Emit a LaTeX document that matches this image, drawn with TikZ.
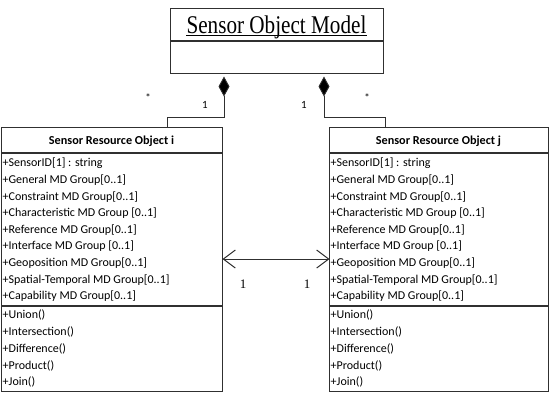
\documentclass[tikz,border=0pt]{standalone}
\usepackage{fontspec}
\setmainfont{Carlito}
\newfontfamily\titlefont[FakeStretch=0.83]{Liberation Serif}
\newfontfamily\serifnum{Liberation Serif}
\usetikzlibrary{arrows.meta}
\definecolor{ln}{HTML}{303030}
\tikzset{
  box/.style={draw=ln, line width=1.3pt, inner sep=0pt, anchor=north west},
  sep/.style={draw=ln, line width=1.3pt},
  conn/.style={draw=ln, line width=0.9pt},
  comp/.style={conn, {Diamond[length=20pt,width=11pt,fill=black]}-},
  assoc/.style={conn, {Straight Barb[length=12pt,width=18pt,line width=1pt]}-{Straight Barb[length=12pt,width=18pt,line width=1pt]}},
  row/.style={anchor=base west, inner sep=0pt, font=\fontsize{12}{13}\selectfont},
  head/.style={anchor=base, inner sep=0pt, font=\fontsize{12.2}{14}\selectfont\bfseries},
  mult/.style={anchor=base, inner sep=0pt, font=\fontsize{11}{13}\selectfont},
  mults/.style={anchor=base, inner sep=0pt, font=\serifnum\fontsize{13}{15}\selectfont}
}
\begin{document}
\begin{tikzpicture}[x=1pt,y=-1pt]
\useasboundingbox (0,0) rectangle (550,400);
% top class
\node[box, minimum width=213pt, minimum height=65pt] (model) at (170,8) {};
\draw[sep] (170,41) -- (383,41);
\node[anchor=base, inner sep=0pt, font=\titlefont\fontsize{25.5}{28}\selectfont] (title) at (276.5,33.3) {Sensor Object Model};
\draw[line width=0.9pt] ([yshift=-2.3pt]title.base west) -- ([yshift=-2.3pt]title.base east);
% left class
\node[box, minimum width=221pt, minimum height=264pt] (ci) at (1,127) {};
\draw[sep] (1,153) -- (222,153);
\draw[sep] (1,306) -- (222,306);
\node[head] (hi) at (111.5,144.2) {Sensor Resource Object i};
% right class
\node[box, minimum width=219pt, minimum height=264pt] (cj) at (329,127) {};
\draw[sep] (329,153) -- (548,153);
\draw[sep] (329,306) -- (548,306);
\node[head] (hj) at (438.5,144.2) {Sensor Resource Object j};
% attributes
\foreach \t [count=\k from 0] in {{+SensorID[1] : string},{+General MD Group[0..1]},{+Constraint MD Group[0..1]},{+Characteristic MD Group [0..1]},{+Reference MD Group[0..1]},{+Interface MD Group [0..1]},{+Geoposition MD Group[0..1]},{+Spatial-Temporal MD Group[0..1]},{+Capability MD Group[0..1]}}{
  \node[row] (ai\k) at (2.5,166.8+16.6*\k) {\t};
  \node[row] (aj\k) at (330.5,166.8+16.6*\k) {\t};
}
\foreach \t [count=\k from 0] in {{+Union()},{+Intersection()},{+Difference()},{+Product()},{+Join()}}{
  \node[row] (mi\k) at (2.5,318.8+16.75*\k) {\t};
  \node[row] (mj\k) at (330.5,318.8+16.75*\k) {\t};
}
% composition connectors
\coordinate (dl) at (224,76.5);
\coordinate (dr) at (324,76.5);
\coordinate (ti) at (167,127);
\coordinate (tj) at (385,127);
\draw[comp] (dl) -- (224,117) -| (ti);
\draw[comp] (dr) -- (324,117) -| (tj);
\node[mult] (m1l) at (205,108) {1};
\node[mult] (m1r) at (304,108) {1};
\node[mult] (msl) at (148,101) {*};
\node[mult] (msr) at (367,101) {*};
% association
\coordinate (ai) at (222.5,259);
\coordinate (aj) at (329.5,259);
\draw[assoc] (ai) -- (aj);
\node[mults] (n1) at (243,288) {1};
\node[mults] (n2) at (307,288) {1};
\end{tikzpicture}
\end{document}
